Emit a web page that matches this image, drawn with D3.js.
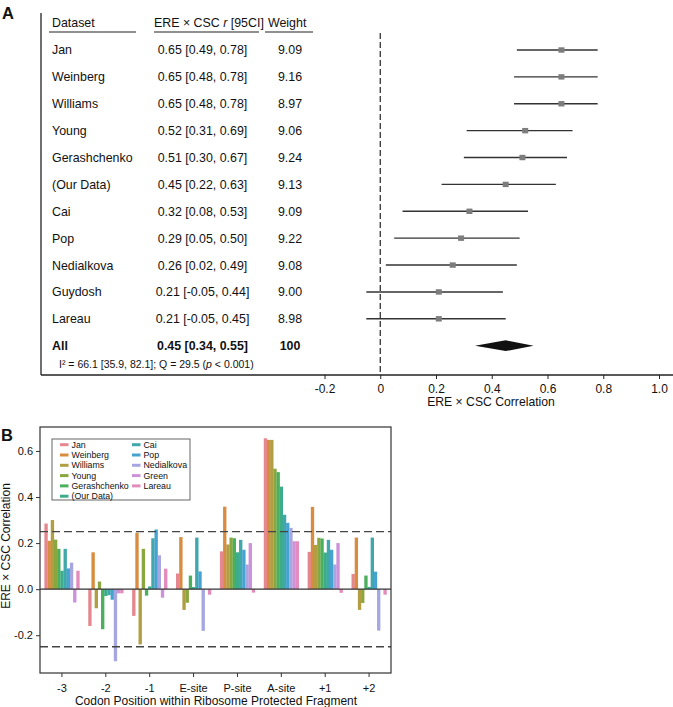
<!DOCTYPE html>
<html><head><meta charset="utf-8">
<script src="https://cdn.jsdelivr.net/npm/d3@7"></script>
<style>
body{margin:0;background:#fff;}
text{font-family:"Liberation Sans",Arial,Helvetica,sans-serif;fill:#111;}
</style></head>
<body>
<svg id="chart" width="673" height="707"></svg>
<script>
// ---------- Panel A data ----------
const datasets = ["Jan","Weinberg","Williams","Young","Gerashchenko","(Our Data)","Cai","Pop","Nedialkova","Guydosh","Lareau","All"];
const rValues  = [0.65,0.65,0.65,0.52,0.51,0.45,0.32,0.29,0.26,0.21,0.21,0.45];
const ciLow    = [0.49,0.48,0.48,0.31,0.30,0.22,0.08,0.05,0.02,-0.05,-0.05,0.34];
const ciHigh   = [0.78,0.78,0.78,0.69,0.67,0.63,0.53,0.50,0.49,0.44,0.45,0.55];
const weights  = [9.09,9.16,8.97,9.06,9.24,9.13,9.09,9.22,9.08,9.00,8.98,100];
const aTicks   = [-0.2,0,0.2,0.4,0.6,0.8,1.0];
const aTickLabels = ["-0.2","0","0.2","0.4","0.6","0.8","1.0"];

// ---------- Panel B data ----------
const positions = ["-3","-2","-1","E-site","P-site","A-site","+1","+2"];
const seriesNames = ["Jan","Weinberg","Williams","Young","Gerashchenko","(Our Data)","Cai","Pop","Nedialkova","Green","Lareau"];
const seriesColors = ["#e5878f","#d88c40","#b19d42","#8aa73f","#4caf5e","#3dac8a","#40a7ab","#46a3d0","#a6a6e0","#cc91d8","#e38cbc"];
const posM3 = [0.285,0.21,0.30,0.215,0.175,0.08,0.175,0.09,0.115,-0.058,0.08];
const posM2 = [-0.16,0.16,-0.083,0.033,-0.174,-0.03,-0.026,-0.046,-0.313,-0.018,-0.018];
const posM1 = [-0.116,0.245,-0.24,0.175,-0.028,0.012,0.221,0.259,0.147,-0.037,0.089];
const posE  = [0.068,0.226,-0.09,-0.059,0.059,0.009,0.224,0.077,-0.181,0.0,-0.024];
const posP  = [0.164,0.358,0.194,0.224,0.221,0.16,0.214,0.171,0.107,0.2,-0.015];
const posA  = [0.655,0.648,0.648,0.523,0.508,0.445,0.323,0.288,0.266,0.208,0.208];
const posP1 = [0.162,0.357,0.192,0.223,0.22,0.159,0.214,0.171,0.107,0.2,-0.016];
const posP2 = [0.066,0.224,-0.09,-0.06,0.059,0.01,0.224,0.076,-0.18,0.0,-0.024];
const bValues = [posM3,posM2,posM1,posE,posP,posA,posP1,posP2];
const bTicks = [-0.2,0,0.2,0.4,0.6];
const thresholds = [0.25,-0.25];

const svg = d3.select("#chart");
const ink = "#222";
const fsA = 12.4;

// ================= Panel A =================
svg.append("text").attr("x",2).attr("y",19).attr("font-size",16.5).attr("font-weight","bold").text("A");

const xA = d3.scaleLinear().domain([-0.2,1.0]).range([324.5,659]);
const yA = d3.scalePoint().domain(datasets).range([50,345.7]);
const axisYA = 375;

svg.append("line").attr("x1",41).attr("x2",41).attr("y1",13).attr("y2",axisYA).attr("stroke",ink).attr("stroke-width",1.3);
svg.append("line").attr("x1",41).attr("x2",673).attr("y1",axisYA).attr("y2",axisYA).attr("stroke",ink).attr("stroke-width",1.3);

const axA = svg.append("g").attr("transform",`translate(0,${axisYA})`)
  .call(d3.axisBottom(xA).tickValues(aTicks).tickFormat((d,i)=>aTickLabels[i]).tickSize(4).tickPadding(5));
axA.select(".domain").remove();
axA.selectAll("line").attr("stroke",ink);
axA.selectAll("text").attr("font-size",12).attr("font-family","Liberation Sans, Arial, sans-serif").attr("fill","#111");
svg.append("text").attr("x",491).attr("y",406).attr("text-anchor","middle").attr("font-size",12.2).text("ERE × CSC Correlation");

svg.append("line").attr("x1",xA(0)).attr("x2",xA(0)).attr("y1",33).attr("y2",axisYA)
  .attr("stroke",ink).attr("stroke-width",1.2).attr("stroke-dasharray","6,3");

const hdrY = 26.5;
svg.append("text").attr("x",52).attr("y",hdrY).attr("font-size",fsA).text("Dataset");
const h2 = svg.append("text").attr("x",154).attr("y",hdrY).attr("font-size",fsA);
h2.append("tspan").text("ERE × CSC ");
h2.append("tspan").attr("font-style","italic").text("r");
h2.append("tspan").text(" [95CI]");
svg.append("text").attr("x",268).attr("y",hdrY).attr("font-size",fsA).text("Weight");
[[49,136],[154,259],[265,313]].forEach(([a,b])=>{
  svg.append("line").attr("x1",a).attr("x2",b).attr("y1",32).attr("y2",32).attr("stroke",ink).attr("stroke-width",1.2);
});

const fmt = v => v.toFixed(2);
datasets.forEach((name,i)=>{
  const y = yA(name);
  const bold = name==="All" ? "bold" : "normal";
  svg.append("text").attr("x",52).attr("y",y).attr("dy","0.36em").attr("font-size",fsA).attr("font-weight",bold).text(name);
  svg.append("text").attr("x",202.5).attr("y",y).attr("dy","0.36em").attr("text-anchor","middle").attr("font-size",fsA).attr("font-weight",bold)
    .text(`${fmt(rValues[i])} [${fmt(ciLow[i])}, ${fmt(ciHigh[i])}]`);
  svg.append("text").attr("x",290).attr("y",y).attr("dy","0.36em").attr("text-anchor","middle").attr("font-size",fsA).attr("font-weight",bold)
    .text(weights[i]>=100 ? String(weights[i]) : weights[i].toFixed(2));
  if(name==="All"){
    const pts = [[xA(ciLow[i]),y],[xA(rValues[i]),y-5.4],[xA(ciHigh[i]),y],[xA(rValues[i]),y+5.4]];
    svg.append("path").attr("d","M"+pts.map(p=>p.join(",")).join("L")+"Z").attr("fill","#111");
  } else {
    svg.append("line").attr("x1",xA(ciLow[i])).attr("x2",xA(ciHigh[i])).attr("y1",y).attr("y2",y)
      .attr("stroke","#333").attr("stroke-width",1.4);
    svg.append("rect").attr("x",xA(rValues[i])-3).attr("y",y-2.7).attr("width",6).attr("height",5.4).attr("fill","#7d7d7d");
  }
});
const foot = svg.append("text").attr("x",59).attr("y",367.5).attr("font-size",10.5);
foot.append("tspan").text("I² = 66.1 [35.9, 82.1]; Q = 29.5 (");
foot.append("tspan").attr("font-style","italic").text("p");
foot.append("tspan").text(" < 0.001)");

// ================= Panel B =================
svg.append("text").attr("x",1).attr("y",441).attr("font-size",16.5).attr("font-weight","bold").text("B");

const bL=40, bR=391, bT=427, bB=673;
const xB = d3.scaleBand().domain(positions).range([bL,bR]).padding(0);
const bw = xB.bandwidth();
const xInner = d3.scaleBand().domain(seriesNames).range([0.1*bw,0.9*bw]);
const yB = d3.scaleLinear().domain([-0.364,0.704]).range([bB,bT]);

const gBars = svg.append("g");
positions.forEach((p,pi)=>{
  seriesNames.forEach((s,si)=>{
    const v = bValues[pi][si];
    gBars.append("rect")
      .attr("x",xB(p)+xInner(s)).attr("width",xInner.bandwidth()+0.15)
      .attr("y",yB(Math.max(v,0))).attr("height",Math.abs(yB(v)-yB(0)))
      .attr("fill",seriesColors[si]);
  });
});

svg.append("line").attr("x1",bL).attr("x2",bR).attr("y1",yB(0)).attr("y2",yB(0)).attr("stroke","#333").attr("stroke-width",1.2);
thresholds.forEach(t=>{
  svg.append("line").attr("x1",bL).attr("x2",bR).attr("y1",yB(t)).attr("y2",yB(t))
    .attr("stroke","#444").attr("stroke-width",1.3).attr("stroke-dasharray","8,4");
});

svg.append("rect").attr("x",bL).attr("y",bT).attr("width",bR-bL).attr("height",bB-bT)
  .attr("fill","none").attr("stroke","#333").attr("stroke-width",1.2);

const axBy = svg.append("g").attr("transform",`translate(${bL},0)`)
  .call(d3.axisLeft(yB).tickValues(bTicks).tickFormat(d=>d.toFixed(1)).tickSize(4).tickPadding(3));
axBy.select(".domain").remove();
axBy.selectAll("line").attr("stroke","#333");
axBy.selectAll("text").attr("font-size",11).attr("font-family","Liberation Sans, Arial, sans-serif").attr("fill","#111");

const axBx = svg.append("g").attr("transform",`translate(0,${bB})`)
  .call(d3.axisBottom(xB).tickSize(4).tickPadding(7));
axBx.select(".domain").remove();
axBx.selectAll("line").attr("stroke","#333");
axBx.selectAll("text").attr("font-size",11).attr("font-family","Liberation Sans, Arial, sans-serif").attr("fill","#111");

svg.append("text").attr("x",216).attr("y",704.5).attr("text-anchor","middle").attr("font-size",12)
  .text("Codon Position within Ribosome Protected Fragment");
svg.append("text").attr("transform","translate(10,546) rotate(-90)").attr("text-anchor","middle").attr("font-size",12)
  .text("ERE × CSC Correlation");

const leg = svg.append("g");
leg.append("rect").attr("x",52).attr("y",439).attr("width",138).attr("height",61)
  .attr("fill","#fff").attr("stroke","#555").attr("stroke-width",0.9);
seriesNames.forEach((s,i)=>{
  const col = i<6 ? 0 : 1, row = i<6 ? i : i-6;
  const x0 = col===0 ? 60 : 132;
  const y = 444.7 + row*10.3;
  leg.append("line").attr("x1",x0).attr("x2",x0+8.5).attr("y1",y).attr("y2",y)
    .attr("stroke",seriesColors[i]).attr("stroke-width",3);
  leg.append("text").attr("x",x0+11.5).attr("y",y).attr("dy","0.35em").attr("font-size",8.8).text(s);
});
</script>
</body></html>
